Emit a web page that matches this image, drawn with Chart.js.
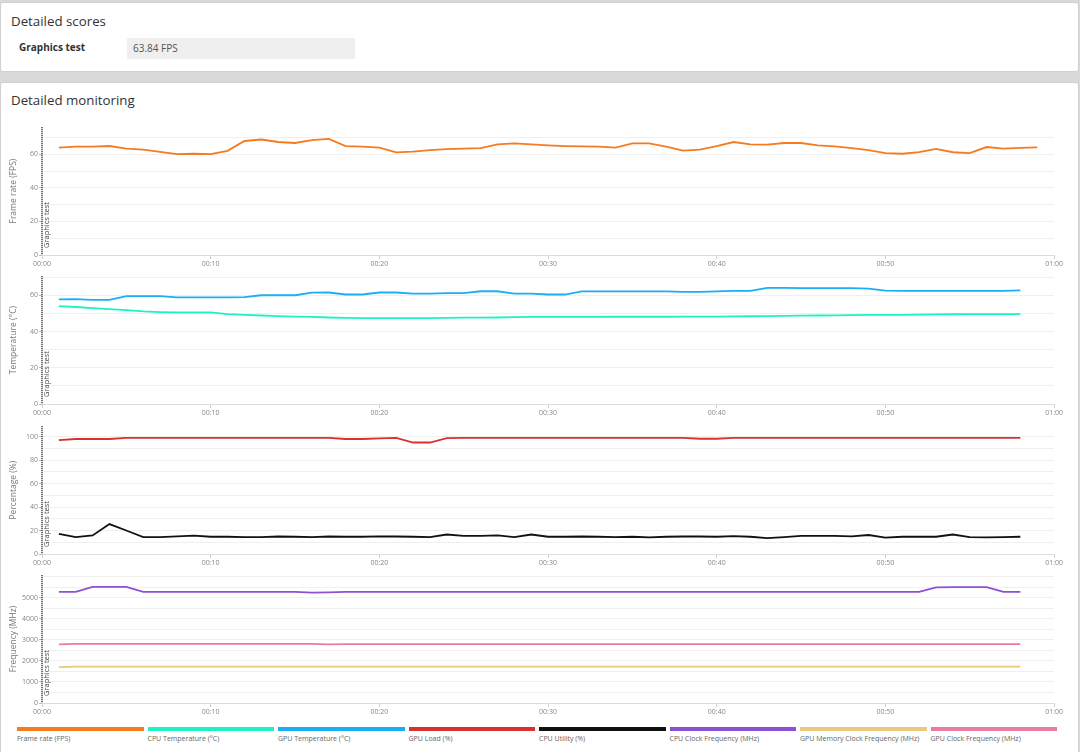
<!DOCTYPE html>
<html lang="en">
<head>
    <meta charset="UTF-8">
    <title>Detailed monitoring</title>
    <script src="https://cdn.jsdelivr.net/npm/chart.js"></script>
    <style>
        body {
            margin: 0;
            width: 1080px;
            height: 752px;
            overflow: hidden;
            background: #d9d9d9;
            font-family: "Open Sans", sans-serif;
            position: relative;
        }
        .card {
            position: absolute;
            left: 0;
            width: 1077px;
            background: #fff;
            border: 1px solid #d0d0d0;
            border-radius: 3px;
        }
        .card h2 {
            position: absolute;
            left: 10px;
            margin: 0;
            font-size: 13.3px;
            font-weight: 400;
            color: #333;
        }
        .score-name {
            position: absolute;
            left: 18px;
            top: 37px;
            font-size: 10px;
            font-weight: 700;
            color: #333;
        }
        .score-box {
            position: absolute;
            left: 126px;
            top: 35px;
            width: 222px;
            height: 21px;
            line-height: 21px;
            padding-left: 6px;
            background: #efefef;
            font-size: 10px;
            color: #555;
        }
        .chart-box {
            position: absolute;
            left: 5px;
            width: 1059px;
            height: 149px;
        }
        .legend {
            position: absolute;
            top: 727px;
            left: 17px;
            display: flex;
            gap: 4px;
        }
        .legend-item {
            width: 126.5px;
        }
        .legend-bar {
            height: 4px;
        }
        .legend-label {
            font-size: 7px;
            color: #666;
            margin-top: 3px;
            white-space: nowrap;
        }
    </style>
</head>
<body>
    <div class="card" style="top: 2px; height: 68px;">
        <h2 style="top: 9px;">Detailed scores</h2>
        <div class="score-name">Graphics test</div>
        <div class="score-box">63.84 FPS</div>
    </div>

    <div class="card" style="top: 82px; height: 680px;">
        <h2 style="top: 8px;">Detailed monitoring</h2>
    </div>

    <div class="chart-box" style="top: 122px;"><canvas id="fpsChart"></canvas></div>
    <div class="chart-box" style="top: 271.3px;"><canvas id="tempChart"></canvas></div>
    <div class="chart-box" style="top: 420.6px;"><canvas id="pctChart"></canvas></div>
    <div class="chart-box" style="top: 569.9px;"><canvas id="freqChart"></canvas></div>

    <div class="legend" id="legend"></div>

    <script>
        // sample times (seconds)
        const seconds = [1, 2, 3, 4, 5, 6, 7, 8, 9, 10, 11, 12, 13, 14, 15, 16, 17, 18, 19, 20,
            21, 22, 23, 24, 25, 26, 27, 28, 29, 30, 31, 32, 33, 34, 35, 36, 37, 38, 39, 40,
            41, 42, 43, 44, 45, 46, 47, 48, 49, 50, 51, 52, 53, 54, 55, 56, 57, 58, 59];
        const xTicks = [0, 10, 20, 30, 40, 50, 60];
        const testStart = 0;
        const testLabel = 'Graphics test';

        const frameRate = [64.1, 64.6, 64.6, 65.0, 63.5, 62.9, 61.5, 60.2, 60.4, 60.2,
            62.1, 68.0, 68.9, 67.4, 66.8, 68.5, 69.3, 65.0, 64.6, 64.1,
            61.2, 61.7, 62.5, 63.1, 63.5, 63.7, 66.0, 66.6, 66.0, 65.4,
            65.0, 64.8, 64.6, 64.1, 66.6, 66.6, 64.6, 62.3, 62.9, 65.0,
            67.4, 66.0, 65.8, 66.8, 66.8, 65.4, 64.8, 63.7, 62.5, 60.8,
            60.4, 61.3, 63.3, 61.3, 60.8, 64.4, 63.5, 63.9, 64.2];

        const cpuTemp = [54.1, 53.6, 53.0, 52.4, 51.9, 51.2, 50.8, 50.6, 50.6, 50.6,
            49.7, 49.3, 48.9, 48.6, 48.3, 48.1, 47.8, 47.6, 47.5, 47.4,
            47.4, 47.4, 47.4, 47.6, 47.7, 47.7, 47.8, 48.0, 48.1, 48.1,
            48.1, 48.1, 48.1, 48.2, 48.2, 48.2, 48.2, 48.3, 48.3, 48.3,
            48.4, 48.5, 48.6, 48.7, 48.8, 48.9, 49.0, 49.1, 49.2, 49.3,
            49.3, 49.4, 49.5, 49.6, 49.7, 49.7, 49.7, 49.7];

        const gpuTemp = [57.8, 58.0, 57.5, 57.5, 59.6, 59.6, 59.6, 58.9, 58.9, 58.9,
            58.9, 59.1, 60.1, 60.1, 60.1, 61.5, 61.6, 60.5, 60.5, 61.6,
            61.6, 61.0, 61.0, 61.3, 61.3, 62.3, 62.3, 61.0, 61.0, 60.5,
            60.5, 62.2, 62.2, 62.2, 62.2, 62.2, 62.2, 62.0, 62.0, 62.2,
            62.5, 62.5, 64.2, 64.2, 64.0, 64.0, 64.0, 64.0, 63.8, 62.7,
            62.5, 62.5, 62.5, 62.5, 62.5, 62.5, 62.5, 62.8];

        const gpuLoad = [97, 98, 98, 98, 99, 99, 99, 99, 99, 99,
            99, 99, 99, 99, 99, 99, 99, 98, 98, 98.6,
            99, 95, 95, 98.8, 99, 99, 99, 99, 99, 99,
            99, 99, 99, 99, 99, 99, 99, 99, 98.2, 98.2,
            99, 99, 99, 99, 99, 99, 99, 99, 99, 99,
            99, 99, 99, 99, 99, 99, 99, 99];

        const cpuUtility = [17.2, 14.4, 15.8, 25.5, 20.0, 14.4, 14.4, 15.0, 15.6, 14.7,
            14.7, 14.4, 14.4, 14.9, 14.7, 14.4, 14.9, 14.7, 14.7, 15.0,
            14.9, 14.7, 14.4, 16.6, 15.5, 15.5, 15.8, 14.4, 16.6, 14.7,
            14.7, 14.9, 14.7, 14.4, 14.7, 14.2, 14.7, 14.9, 14.9, 14.7,
            15.2, 14.7, 13.6, 14.4, 15.5, 15.5, 15.5, 15.0, 16.2, 13.9,
            14.7, 14.7, 14.7, 16.6, 14.4, 14.2, 14.4, 14.7];

        const cpuClock = [5280, 5280, 5520, 5520, 5520, 5280, 5280, 5280, 5280, 5280,
            5280, 5280, 5280, 5280, 5280, 5240, 5260, 5280, 5280, 5280,
            5280, 5280, 5280, 5280, 5280, 5280, 5280, 5280, 5280, 5280,
            5280, 5280, 5280, 5280, 5280, 5280, 5280, 5280, 5280, 5280,
            5280, 5280, 5280, 5280, 5280, 5280, 5280, 5280, 5280, 5280,
            5280, 5280, 5490, 5510, 5510, 5510, 5280, 5280];

        const gpuMemClock = [1700, 1730, 1730, 1730, 1730, 1730, 1730, 1730, 1730, 1730,
            1730, 1730, 1730, 1730, 1730, 1730, 1730, 1730, 1730, 1730,
            1730, 1730, 1730, 1730, 1730, 1730, 1730, 1730, 1730, 1730,
            1730, 1730, 1730, 1730, 1730, 1730, 1730, 1730, 1730, 1730,
            1730, 1730, 1730, 1730, 1730, 1730, 1730, 1730, 1730, 1730,
            1730, 1730, 1730, 1730, 1730, 1730, 1730, 1730];

        const gpuClock = [2790, 2810, 2805, 2805, 2805, 2805, 2805, 2805, 2810, 2810,
            2810, 2810, 2805, 2810, 2810, 2810, 2790, 2795, 2795, 2800,
            2800, 2800, 2795, 2795, 2795, 2795, 2795, 2800, 2800, 2800,
            2800, 2800, 2800, 2800, 2800, 2795, 2795, 2795, 2795, 2795,
            2800, 2800, 2800, 2800, 2795, 2795, 2795, 2795, 2795, 2795,
            2795, 2795, 2795, 2795, 2795, 2795, 2795, 2795];

        const seriesNames = ['Frame rate (FPS)', 'CPU Temperature (°C)', 'GPU Temperature (°C)', 'GPU Load (%)',
            'CPU Utility (%)', 'CPU Clock Frequency (MHz)', 'GPU Memory Clock Frequency (MHz)', 'GPU Clock Frequency (MHz)'];
        const seriesColors = ['#f57b20', '#1ef2c4', '#1aaff5', '#d8312f',
            '#111111', '#8e50d2', '#e9c97c', '#ea7ca4'];

        const FONT = '"Open Sans", sans-serif';

        // dotted test marker with rotated label
        const testMarker = {
            id: 'testMarker',
            afterDatasetsDraw(chart) {
                const { ctx, chartArea, scales } = chart;
                const x = scales.x.getPixelForValue(testStart);
                ctx.save();
                ctx.strokeStyle = '#555';
                ctx.lineWidth = 2;
                ctx.setLineDash([1, 1]);
                ctx.beginPath();
                ctx.moveTo(x, chartArea.top);
                ctx.lineTo(x, chartArea.bottom);
                ctx.stroke();
                ctx.translate(x + 5, chartArea.bottom - 7);
                ctx.rotate(-Math.PI / 2);
                ctx.fillStyle = '#444';
                ctx.font = '7.5px ' + FONT;
                ctx.textBaseline = 'middle';
                ctx.fillText(testLabel, 0, 0);
                ctx.restore();
            }
        };

        function pad(n) { return String(n).padStart(2, '0'); }

        function makeChart(id, title, series, gridStep, labelStep) {
            const top = Math.max(...series.map(s => Math.max(...s.values))) * 1.1;
            // labels every labelStep, none squeezed against the top edge
            const showLabel = v => v % labelStep === 0 && top - v > gridStep / 2;
            new Chart(document.getElementById(id), {
                type: 'line',
                data: {
                    datasets: series.map(s => ({
                        label: seriesNames[s.idx],
                        data: s.values.map((v, i) => ({ x: seconds[i], y: v })),
                        borderColor: seriesColors[s.idx],
                        borderWidth: 1.8,
                        pointRadius: 0,
                        tension: 0,
                        fill: false
                    }))
                },
                options: {
                    responsive: true,
                    maintainAspectRatio: false,
                    animation: false,
                    layout: { padding: { top: 2, right: 0, bottom: 0, left: 0 } },
                    plugins: { legend: { display: false }, tooltip: { enabled: false } },
                    scales: {
                        x: {
                            type: 'linear',
                            min: 0,
                            max: 60,
                            afterBuildTicks: axis => { axis.ticks = xTicks.map(v => ({ value: v })); },
                            afterFit: axis => { axis.height = 16; },
                            grid: { drawOnChartArea: false, tickLength: 4, color: '#cfcfcf' },
                            border: { color: '#dcdcdc' },
                            ticks: {
                                padding: 1,
                                maxRotation: 0,
                                color: '#888',
                                font: { size: 7, family: FONT },
                                callback: v => pad(Math.floor(v / 60)) + ':' + pad(v % 60)
                            }
                        },
                        y: {
                            min: 0,
                            max: top,
                            afterBuildTicks: axis => {
                                const ticks = [];
                                for (let v = 0; v <= top; v += gridStep) ticks.push({ value: v });
                                axis.ticks = ticks;
                            },
                            afterFit: axis => { axis.width = 37; },
                            border: { display: false },
                            grid: {
                                color: '#f0f0f0',
                                tickLength: 3,
                                tickColor: c => (c.tick && showLabel(c.tick.value)) ? '#bbb' : 'rgba(0,0,0,0)'
                            },
                            ticks: {
                                autoSkip: false,
                                padding: 1,
                                color: '#888',
                                font: { size: 7, family: FONT },
                                callback: v => (showLabel(v) ? v : '')
                            },
                            title: {
                                display: true,
                                text: title,
                                color: '#777',
                                padding: { top: 3, bottom: 0 },
                                font: { size: 8.5, family: FONT }
                            }
                        }
                    }
                },
                plugins: [testMarker]
            });
        }

        makeChart('fpsChart', 'Frame rate (FPS)', [{ idx: 0, values: frameRate }], 10, 20);
        makeChart('tempChart', 'Temperature (°C)', [{ idx: 2, values: gpuTemp }, { idx: 1, values: cpuTemp }], 10, 20);
        makeChart('pctChart', 'Percentage (%)', [{ idx: 3, values: gpuLoad }, { idx: 4, values: cpuUtility }], 10, 20);
        makeChart('freqChart', 'Frequency (MHz)', [{ idx: 5, values: cpuClock }, { idx: 7, values: gpuClock }, { idx: 6, values: gpuMemClock }], 500, 1000);

        // legend strip
        const legend = document.getElementById('legend');
        seriesNames.forEach((name, i) => {
            const item = document.createElement('div');
            item.className = 'legend-item';
            item.innerHTML = '<div class="legend-bar" style="background:' + seriesColors[i] + '"></div>' +
                '<div class="legend-label">' + name + '</div>';
            legend.appendChild(item);
        });
    </script>
</body>
</html>
